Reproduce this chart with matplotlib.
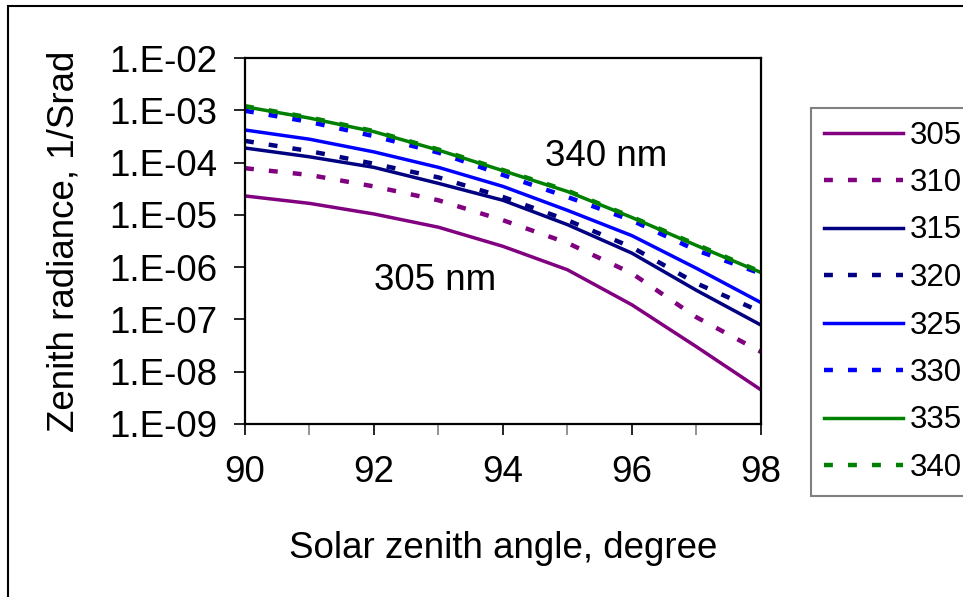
import numpy as np
import matplotlib
matplotlib.use("Agg")
import matplotlib.pyplot as plt
from matplotlib.patches import Rectangle
from matplotlib.ticker import FixedLocator, FuncFormatter

plt.rcParams['font.family'] = ['Liberation Sans', 'DejaVu Sans']

# solar zenith angle, degree
angle = [90, 91, 92, 93, 94, 95, 96, 97, 98]

# zenith radiance (1/Srad) per wavelength, nm
rad_305 = [2.3e-5, 1.66e-5, 1.04e-5, 5.8e-6, 2.5e-6, 8.9e-7, 1.9e-7, 3.0e-8, 4.5e-9]
rad_310 = [7.8e-5, 5.8e-5, 3.5e-5, 1.9e-5, 7.9e-6, 2.9e-6, 7.6e-7, 1.1e-7, 2.4e-8]
rad_315 = [1.9e-4, 1.29e-4, 8.1e-5, 4.0e-5, 1.9e-5, 6.5e-6, 1.85e-6, 3.6e-7, 7.8e-8]
rad_320 = [2.6e-4, 1.66e-4, 9.5e-5, 5.2e-5, 2.2e-5, 7.9e-6, 2.4e-6, 4.9e-7, 1.4e-7]
rad_325 = [4.2e-4, 2.8e-4, 1.6e-4, 8.1e-5, 3.5e-5, 1.22e-5, 4.0e-6, 9.5e-7, 2.1e-7]
rad_330 = [9.8e-4, 6.0e-4, 3.2e-4, 1.55e-4, 5.8e-5, 2.2e-5, 7.8e-6, 2.1e-6, 7.5e-7]
rad_335 = [1.17e-3, 7.1e-4, 3.9e-4, 1.73e-4, 7.0e-5, 2.8e-5, 8.9e-6, 2.6e-6, 7.9e-7]
rad_340 = [1.2e-3, 7.3e-4, 4.0e-4, 1.78e-4, 7.2e-5, 2.9e-5, 9.1e-6, 2.7e-6, 8.1e-7]

labels = ['305', '310', '315', '320', '325', '330', '335', '340']
series = [rad_305, rad_310, rad_315, rad_320, rad_325, rad_330, rad_335, rad_340]
colors = ['#800080', '#800080', '#000080', '#000080', '#0000ff', '#0000ff', '#008000', '#008000']
dotted = [False, True, False, True, False, True, False, True]

fig = plt.figure(figsize=(9.63, 5.97), dpi=100)
ax = fig.add_axes([0.2544, 0.2898, 0.5358, 0.6130])

for lab, y, c, d in zip(labels, series, colors, dotted):
    if d:
        ax.plot(angle, y, color=c, linestyle=(0, (2.0, 3.4)), linewidth=3.2, label=lab)
    else:
        ax.plot(angle, y, color=c, linestyle='-', linewidth=2.5, label=lab)

ax.set_yscale('log')
ax.set_ylim(1e-9, 1e-2)
ax.set_xlim(90, 98)

ax.yaxis.set_major_locator(FixedLocator([10.0 ** k for k in range(-9, -1)]))
ax.yaxis.set_minor_locator(FixedLocator([]))
ax.yaxis.set_major_formatter(FuncFormatter(lambda v, p: '1.E-%02d' % round(-np.log10(v))))
ax.xaxis.set_major_locator(FixedLocator([90, 92, 94, 96, 98]))
ax.xaxis.set_minor_locator(FixedLocator([91, 93, 95, 97]))

ax.tick_params(axis='both', which='major', labelsize=26.5, length=8, width=1.2,
               direction='out', color='black')
ax.tick_params(axis='y', pad=12)
ax.tick_params(axis='x', pad=14)
ax.tick_params(axis='x', which='minor', length=8, width=1.2, color='#808080')

for s in ax.spines.values():
    s.set_linewidth(1.6)
    s.set_color('black')

ax.set_xlabel('Solar zenith angle, degree', fontsize=26.5, labelpad=30)
ax.set_ylabel('Zenith radiance, 1/Srad', fontsize=26.5, labelpad=20)

ax.text(95.6, 1.29e-4, '340 nm', fontsize=26.5, ha='center', va='center')
ax.text(92.95, 5.5e-7, '305 nm', fontsize=26.5, ha='center', va='center')

leg = fig.legend(loc='upper left', bbox_to_anchor=(811 / 963, 1 - 108 / 597),
                 bbox_transform=fig.transFigure, fontsize=22.5, frameon=True,
                 fancybox=False, edgecolor='#606060', handlelength=2.55,
                 handletextpad=0.2, labelspacing=0.56, borderpad=0.4,
                 borderaxespad=0)
leg.get_frame().set_linewidth(1.5)

# outer chart frame
fig.patches.append(Rectangle((8 / 963, -0.1), 1.1, 1.1 - 6 / 597,
                             transform=fig.transFigure, fill=False,
                             edgecolor='black', linewidth=1.5))

fig.savefig('out.png', dpi=100)
